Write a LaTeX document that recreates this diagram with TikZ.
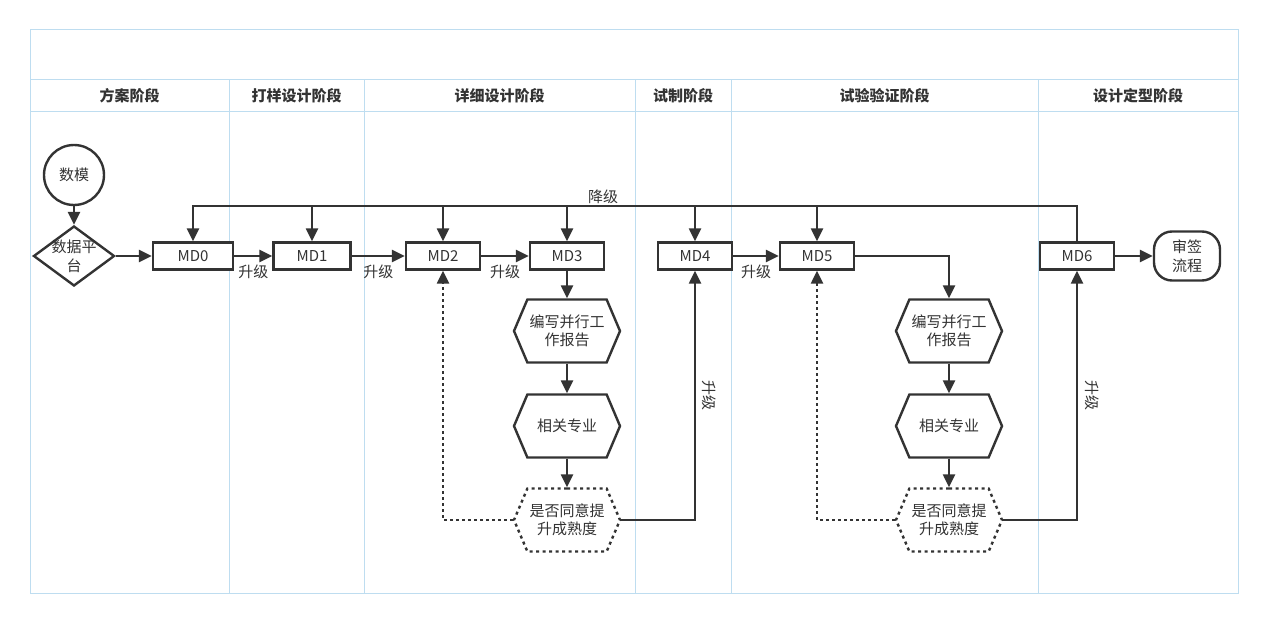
\documentclass[tikz,border=0pt]{standalone}
\usepackage{fontspec}
\setmainfont{Noto Sans CJK SC}
\usetikzlibrary{arrows.meta,positioning,shapes.geometric,shapes.symbols}

\definecolor{laneline}{RGB}{190,221,240}
\definecolor{inkgray}{RGB}{51,51,51}

\tikzset{
  lane line/.style={
    draw=laneline,
    line width=1pt
  }
}
\tikzset{
  lane head/.style={
    font=\fontsize{15}{18}\selectfont\bfseries,
    text=inkgray
  }
}
\tikzset{
  md node/.style={
    rectangle,
    draw=inkgray,
    fill=white,
    line width=2.4pt,
    minimum width=74pt,
    minimum height=27pt,
    inner sep=0pt,
    font=\fontsize{15}{18}\selectfont,
    text=inkgray
  }
}
\tikzset{
  start node/.style={
    circle,
    draw=inkgray,
    fill=white,
    line width=2.4pt,
    minimum size=60pt,
    inner sep=0pt,
    font=\fontsize{15}{18}\selectfont,
    text=inkgray
  }
}
\tikzset{
  platform node/.style={
    diamond,
    draw=inkgray,
    fill=white,
    line width=2.4pt,
    minimum width=81pt,
    minimum height=60pt,
    inner sep=0pt
  }
}
\tikzset{
  hex node/.style={
    signal,
    signal to=west and east,
    signal pointer angle=134,
    draw=inkgray,
    fill=white,
    line width=2.4pt,
    minimum width=106pt,
    minimum height=63pt,
    inner xsep=0pt,
    inner ysep=0pt,
    align=center,
    font=\fontsize{15}{18}\selectfont,
    text=inkgray
  }
}
\tikzset{
  check node/.style={
    hex node,
    dash pattern=on 3pt off 3.5pt
  }
}
\tikzset{
  end node/.style={
    rectangle,
    rounded corners=18pt,
    draw=inkgray,
    fill=white,
    line width=2.4pt,
    minimum width=66pt,
    minimum height=49pt,
    inner sep=0pt,
    align=center,
    font=\fontsize{15}{19}\selectfont,
    text=inkgray
  }
}
\tikzset{
  flow/.style={
    -{Triangle[length=13pt,width=12pt]},
    draw=inkgray,
    line width=2.4pt
  }
}
\tikzset{
  back flow/.style={
    flow,
    dash pattern=on 2.5pt off 3.5pt
  }
}
\tikzset{
  edge label/.style={
    inner sep=2pt,
    font=\fontsize{15}{18}\selectfont,
    text=inkgray
  }
}

\begin{document}
\begin{tikzpicture}[x=1pt,y=-1pt]

    % ------------------------------------------------------------
    % Swimlanes
    % ------------------------------------------------------------

    \fill[white] (0,0) rectangle (1268,623);
    \useasboundingbox (0,0) rectangle (1268,623);

    \draw[lane line] (30,30) rectangle (1238,593);
    \draw[lane line] (30,80) -- (1238,80);
    \draw[lane line] (30,112) -- (1238,112);

    \foreach \xa/\xb/\lane in {30/229/方案阶段, 229/364/打样设计阶段,
        364/635/详细设计阶段, 635/731/试制阶段, 731/1038/试验验证阶段,
        1038/1238/设计定型阶段}
    {
      \draw[lane line] (\xb,80) -- (\xb,593);
      \node[lane head] (head-\xa) at ({(\xa+\xb)/2},96) {\lane};
    }

    % ------------------------------------------------------------
    % Nodes
    % ------------------------------------------------------------

    \node[start node] (datamodel) at (74,175) {数模};

    \node[platform node, label={[align=center, font=\fontsize{15}{19}\selectfont,
        text=inkgray]center:数据平\\台}] (platform) at (74,256) {};

    \node[md node, minimum width=80pt] (md0) at (193,256) {MD0};
    \node[md node, minimum width=77pt] (md1) at (312,256) {MD1};
    \node[md node] (md2) at (443,256) {MD2};
    \node[md node] (md3) at (567,256) {MD3};
    \node[md node] (md4) at (695,256) {MD4};
    \node[md node] (md5) at (817,256) {MD5};
    \node[md node] (md6) at (1077,256) {MD6};

    \node[end node] (signoff) at (1187,256) {审签\\流程};

    \node[hex node] (reportA) at (567,331) {编写并行工\\作报告};
    \node[hex node] (majorA) at (567,426) {相关专业};
    \node[check node] (checkA) at (567,520) {是否同意提\\升成熟度};

    \node[hex node] (reportB) at (949,331) {编写并行工\\作报告};
    \node[hex node] (majorB) at (949,426) {相关专业};
    \node[check node] (checkB) at (949,520) {是否同意提\\升成熟度};

    \coordinate (rail) at (0,206);

    % ------------------------------------------------------------
    % Main flow
    % ------------------------------------------------------------

    \draw[flow] (datamodel.south) -- (platform.north);
    \draw[flow] (platform.east) -- (md0.west);

    \draw[flow] (md0.east) -- node[edge label, below=6pt] {升级} (md1.west);
    \draw[flow] (md1.east) -- node[edge label, below=6pt] {升级} (md2.west);
    \draw[flow] (md2.east) -- node[edge label, below=6pt] {升级} (md3.west);
    \draw[flow] (md4.east) -- node[edge label, below=6pt] {升级} (md5.west);
    \draw[flow] (md6.east) -- (signoff.west);

    % Downgrade rail
    \draw[flow] (md6.north) -- (md6.north |- rail) -| (md0.north);
    \node[edge label, above] at (603,206) {降级};
    \foreach \md in {md1,md2,md3,md4,md5}
      \draw[flow] (\md.north |- rail) -- (\md.north);

    % ------------------------------------------------------------
    % Review branches
    % ------------------------------------------------------------

    \draw[flow] (md3.south) -- (reportA.north);
    \draw[flow] (reportA.south) -- (majorA.north);
    \draw[flow] (majorA.south) -- (checkA.north);
    \draw[back flow] (checkA.west) -| (md2.south);
    \draw[flow] (checkA.east) -| node[edge label, rotate=-90, pos=0.75,
        yshift=14pt] {升级} (md4.south);

    \draw[flow] (md5.east) -| (reportB.north);
    \draw[flow] (reportB.south) -- (majorB.north);
    \draw[flow] (majorB.south) -- (checkB.north);
    \draw[back flow] (checkB.west) -| (md5.south);
    \draw[flow] (checkB.east) -| node[edge label, rotate=-90, pos=0.75,
        yshift=15pt] {升级} (md6.south);

\end{tikzpicture}
\end{document}
